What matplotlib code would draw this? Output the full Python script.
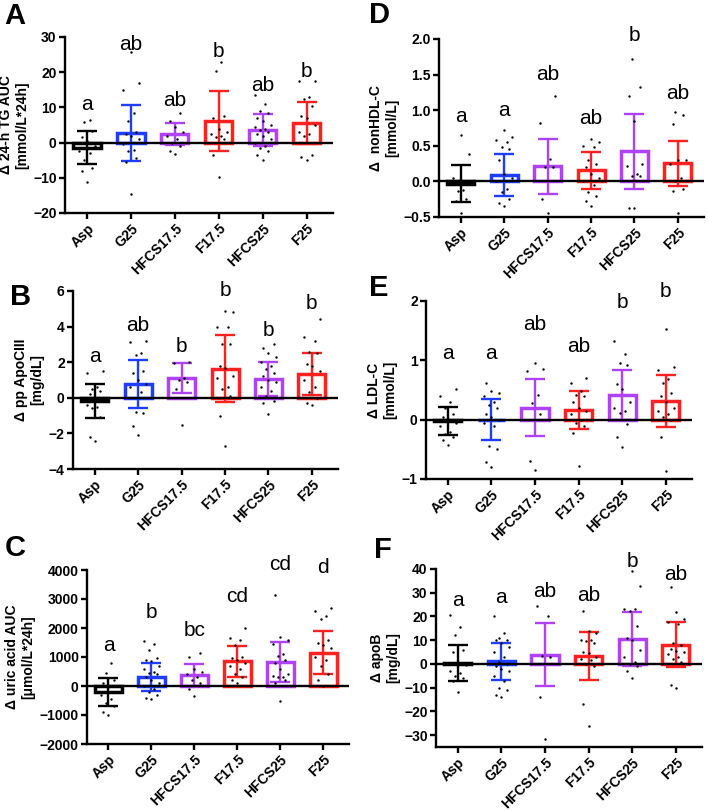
import matplotlib
matplotlib.use("Agg")
import matplotlib.pyplot as plt
import numpy as np

plt.rcParams['font.family'] = ['Liberation Sans', 'DejaVu Sans']

groups = ['Asp', 'G25', 'HFCS17.5', 'F17.5', 'HFCS25', 'F25']
colors = ['black', '#1f3dff', '#b042f5', '#ff2020', '#b042f5', '#ff2020']

# panel A: 24-h TG AUC
tg_mean = [-1.4, 2.75, 2.45, 6.1, 3.55, 5.45]
tg_sd = [4.7, 7.85, 3.25, 8.6, 4.65, 5.95]
tg_letters = ['a', 'ab', 'ab', 'b', 'ab', 'b']
tg_letter_y = [10.7, 27.8, 12.0, 26.0, 16.1, 20.3]
tg_points = [
    [6.5, 5.8, 3.2, 1.5, 0.5, -1.0, -2.5, -3.0, -5.0, -7.3, -8.2, -11.3],
    [25.8, 17, 15, 8.5, 6, 3, 2.5, 2, 1, -0.5, -2, -2.5, -4.5, -5.5, -14.7],
    [8.5, 6, 4.5, 3, 2, 1, 0, -1, -2.5, -3.3],
    [23, 20.3, 7.5, 7, 4, 3, 2.5, 2, 1.5, 1, -3.5, -9.7],
    [13.5, 11, 9, 8.5, 7, 6, 5, 4.5, 4, 3.5, 3, 2.5, 2, 1, 0, -1, -1.5, -2.5, -3.5, -5],
    [17.5, 17.5, 13, 12.5, 10.5, 7.5, 7, 5, 3, 2.5, 2, -3.5, -4, -5],
]

# panel D: nonHDL-C
nh_mean = [-0.03, 0.085, 0.21, 0.155, 0.42, 0.255]
nh_sd = [0.26, 0.295, 0.39, 0.255, 0.52, 0.315]
nh_letters = ['a', 'a', 'ab', 'ab', 'b', 'ab']
nh_letter_y = [0.91, 1.0, 1.5, 0.88, 2.05, 1.24]
nh_points = [
    [0.65, 0.38, 0.05, -0.12, -0.13, -0.25, -0.28, -0.45],
    [0.72, 0.62, 0.58, 0.55, 0.48, 0.45, 0.3, 0.1, 0.05, 0.0, -0.1, -0.15, -0.25, -0.3, -0.35],
    [1.2, 0.82, 0.32, 0.2, 0.2, -0.25, -0.45],
    [0.6, 0.55, 0.5, 0.48, 0.3, 0.25, 0.2, 0.1, 0.05, 0.0, -0.05, -0.15, -0.2, -0.28, -0.35],
    [1.72, 1.32, 1.2, 0.85, 0.25, 0.22, 0.1, 0.08, 0.08, -0.37, -0.37],
    [0.97, 0.93, 0.8, 0.3, 0.3, 0.25, 0.05, 0.0, -0.1, -0.13, -0.45],
]

# panel B: pp ApoCIII
ac_mean = [-0.175, 0.76, 1.11, 1.63, 1.06, 1.33]
ac_sd = [0.955, 1.36, 0.86, 1.88, 0.94, 1.18]
ac_letters = ['a', 'ab', 'b', 'b', 'b', 'b']
ac_letter_y = [2.34, 4.08, 2.87, 6.0, 3.8, 5.3]
ac_points = [
    [1.5, 1.4, 0.6, 0.5, 0.4, 0.2, 0.0, -0.2, -0.4, -0.5, -0.6, -1.1, -2.2, -2.4],
    [3.2, 3.15, 2.5, 2.4, 1.5, 1.4, 1.0, 0.8, 0.6, 0.3, -0.8, -0.85, -1.6, -2.1],
    [2.0, 1.95, 1.1, 1.0, 0.9, 0.5, -1.5],
    [4.9, 4.8, 4.0, 4.0, 3.0, 3.0, 1.8, 1.7, 1.2, 1.1, 0.6, 0.5, 0.1, -1.0, -2.7],
    [3.0, 2.8, 2.5, 2.3, 2.0, 1.8, 1.6, 1.4, 1.2, 1.0, 0.9, 0.6, 0.4, 0.1, -0.2, -0.3, -0.9],
    [4.4, 3.4, 3.2, 2.6, 2.5, 1.9, 1.8, 1.5, 1.0, 0.6, 0.3, 0.0, -0.3, -0.4],
]

# panel E: LDL-C
ldl_mean = [-0.025, -0.005, 0.205, 0.165, 0.415, 0.315]
ldl_sd = [0.235, 0.345, 0.485, 0.325, 0.415, 0.435]
ldl_letters = ['a', 'a', 'ab', 'ab', 'b', 'b']
ldl_letter_y = [1.12, 1.12, 1.6, 1.24, 1.98, 2.16]
ldl_points = [
    [0.52, 0.4, 0.3, 0.2, 0.1, 0.05, 0.0, -0.05, -0.1, -0.2, -0.25, -0.3, -0.35, -0.42],
    [0.62, 0.48, 0.45, 0.4, 0.3, 0.25, 0.2, 0.1, 0.05, 0.0, -0.05, -0.1, -0.45, -0.5, -0.72, -0.8],
    [0.96, 0.85, 0.82, 0.42, 0.28, 0.1, -0.7, -0.85],
    [0.7, 0.62, 0.48, 0.42, 0.4, 0.3, 0.2, 0.15, 0.1, 0.0, -0.05, -0.1, -0.22, -0.78],
    [1.33, 1.1, 0.95, 0.92, 0.6, 0.52, 0.3, 0.2, 0.15, 0.12, -0.08, -0.3, -0.46],
    [1.52, 0.88, 0.83, 0.68, 0.62, 0.45, 0.4, 0.3, 0.2, 0.15, 0.1, 0.05, 0.0, -0.3, -0.87],
]

# panel C: uric acid AUC
ua_mean = [-207, 322, 380, 845, 820, 1150]
ua_sd = [472, 482, 380, 535, 690, 750]
ua_letters = ['a', 'b', 'bc', 'cd', 'cd', 'd']
ua_letter_y = [1380, 2530, 1930, 3100, 4200, 4080]
ua_points = [
    [800, 450, 200, 100, -50, -200, -300, -450, -600, -700, -900, -1000],
    [1550, 1450, 1250, 950, 900, 850, 700, 600, 500, 450, 400, 300, 200, 100, 0, -100, -200, -300, -400, -450],
    [1130, 1000, 600, 500, 400, 300, 200, 100, -100, -350],
    [2000, 1650, 1600, 1400, 1000, 950, 900, 800, 700, 600, 400, 300, 200, 100],
    [3150, 1700, 1600, 1450, 1100, 1050, 900, 800, 600, 400, 350, 300, 300, 200, 100, -500],
    [2700, 2600, 2400, 2300, 1600, 1500, 1400, 1300, 1000, 900, 700, 400, 200, 0],
]

# panel F: apoB
ab_mean = [0.25, 1.1, 3.8, 3.4, 10.35, 8.15]
ab_sd = [7.65, 7.8, 13.3, 10.1, 11.35, 9.45]
ab_letters = ['a', 'a', 'ab', 'ab', 'b', 'ab']
ab_letter_y = [26.7, 28.2, 30.4, 28.9, 43.1, 37.6]
ab_points = [
    [20.5, 15.5, 12, 6, 5, 0, -0.5, -3, -4, -5, -6, -7, -12],
    [20, 13, 11, 10, 10, 9, 7, 5, 3, 1, 0, -1, -2, -3, -5, -7, -10, -11, -13, -14],
    [24.5, 20, 3.5, 3, -14, -31.5],
    [22.5, 14, 13, 10, 10, 9.5, 9, 5, 4.5, 3, 2, 1.5, 0, -1, -17, -26],
    [39, 33, 23, 23, 22.5, 16, 11, 10, 6, 3, 1, 0, -1, -3, -6],
    [32.5, 22, 19, 17.5, 17, 9, 8, 6.5, 5.5, 5, 4, 3, 2, 1, -9, -10],
]

offsets = [0, -0.12, 0.12, -0.06, 0.06, -0.18, 0.18]

fig = plt.figure(figsize=(7.08, 8.1), dpi=100)


def panel(rect, letter, letter_xy, means, sds, points, letters, letter_y, ylim, yticks, ylabel):
    ax = fig.add_axes(rect)
    x = np.arange(len(groups))
    for i in range(len(groups)):
        ax.bar(x[i], means[i], width=0.62, facecolor='none', edgecolor=colors[i],
               linewidth=2.5, zorder=2)
        ax.errorbar(x[i], means[i], yerr=sds[i], color=colors[i], capsize=7,
                    elinewidth=1.7, capthick=1.7, zorder=3)
        pts = sorted(points[i])
        xs = [x[i] + offsets[k % len(offsets)] for k in range(len(pts))]
        ax.scatter(xs, pts, s=3, color='black', zorder=4, linewidths=0)
        ax.text(x[i], letter_y[i], letters[i], ha='center', va='center', fontsize=15)
    ax.axhline(0, color='black', linewidth=1.7, zorder=5)
    ax.set_xlim(-0.5, 5.6)
    ax.set_ylim(*ylim)
    ax.set_yticks(yticks)
    ax.set_xticks(x)
    ax.set_xticklabels(groups, rotation=45, ha='right', rotation_mode='anchor',
                       fontsize=10, fontweight='bold')
    for t in ax.get_yticklabels():
        t.set_fontweight('bold')
        t.set_fontsize(10)
    ax.spines['top'].set_visible(False)
    ax.spines['right'].set_visible(False)
    ax.spines['left'].set_linewidth(1.7)
    ax.spines['bottom'].set_linewidth(1.7)
    ax.tick_params(width=1.7, length=4, pad=2)
    ax.set_ylabel(ylabel, fontsize=10, fontweight='bold', labelpad=3)
    fig.text(letter_xy[0] / 708, 1 - letter_xy[1] / 810, letter, fontsize=21,
             fontweight='bold', ha='left', va='center')
    return ax


panel([65 / 708, 1 - 213 / 810, 268 / 708, 176 / 810], 'A', (4, 16),
      tg_mean, tg_sd, tg_points, tg_letters, tg_letter_y, (-20, 30),
      [-20, -10, 0, 10, 20, 30], 'Δ 24-h TG AUC\n[mmol/L*24h]')
panel([439 / 708, 1 - 217 / 810, 265 / 708, 178 / 810], 'D', (369, 15),
      nh_mean, nh_sd, nh_points, nh_letters, nh_letter_y, (-0.5, 2.0),
      [-0.5, 0.0, 0.5, 1.0, 1.5, 2.0], 'Δ  nonHDL-C\n[mmol/L]')
panel([73 / 708, 1 - 469 / 810, 265 / 708, 178 / 810], 'B', (10, 297),
      ac_mean, ac_sd, ac_points, ac_letters, ac_letter_y, (-4, 6),
      [-4, -2, 0, 2, 4, 6], 'Δ pp ApoCIII\n[mg/dL]')
panel([426 / 708, 1 - 479 / 810, 266 / 708, 178 / 810], 'E', (369, 288),
      ldl_mean, ldl_sd, ldl_points, ldl_letters, ldl_letter_y, (-1, 2),
      [-1, 0, 1, 2], 'Δ LDL-C\n[mmol/L]')
panel([87 / 708, 1 - 744 / 810, 262 / 708, 174 / 810], 'C', (5, 548),
      ua_mean, ua_sd, ua_points, ua_letters, ua_letter_y, (-2000, 4000),
      [-2000, -1000, 0, 1000, 2000, 3000, 4000], 'Δ uric acid AUC\n[μmol/L*24h]')
panel([436 / 708, 1 - 747 / 810, 266 / 708, 178 / 810], 'F', (374, 550),
      ab_mean, ab_sd, ab_points, ab_letters, ab_letter_y, (-35, 40),
      [-30, -20, -10, 0, 10, 20, 30, 40], 'Δ apoB\n[mg/dL]')

fig.savefig('out.png', dpi=100)
